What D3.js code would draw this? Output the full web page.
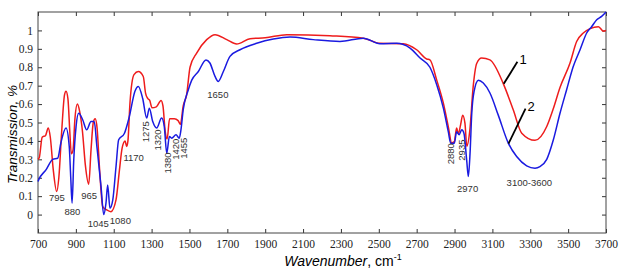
<!DOCTYPE html>
<html>
<head>
<meta charset="utf-8">
<script src="https://cdn.jsdelivr.net/npm/d3@7"></script>
<style>
    body { margin: 0; background: #fff; }
    .peak { font-family: "Liberation Sans", Arial, sans-serif; font-size: 9.5px; fill: #333; }
</style>
</head>
<body>
<svg id="drawing_region"></svg>
<script>
// wavenumber / transmission
const wave1 = [700, 707, 722, 740, 754, 765, 780, 799, 810, 825, 840, 848, 858, 868, 876, 885, 895, 908, 920, 935, 950, 968, 980, 992, 1002, 1012, 1025, 1042, 1063, 1085, 1112, 1130, 1144, 1160, 1168, 1175, 1186, 1207, 1230, 1256, 1268, 1280, 1290, 1302, 1325, 1350, 1360, 1372, 1382, 1395, 1420, 1440, 1452, 1467, 1485, 1503, 1538, 1591, 1635, 1697, 1749, 1820, 1900, 2014, 2242, 2418, 2506, 2629, 2700, 2753, 2770, 2806, 2841, 2867, 2885, 2899, 2911, 2920, 2932, 2943, 2955, 2965, 2980, 2999, 3017, 3043, 3087, 3158, 3210, 3255, 3325, 3387, 3420, 3457, 3510, 3545, 3580, 3616, 3660, 3687, 3700];
const trans1 = [0.30, 0.31, 0.42, 0.43, 0.47, 0.42, 0.25, 0.125, 0.20, 0.45, 0.65, 0.67, 0.63, 0.45, 0.33, 0.35, 0.52, 0.60, 0.56, 0.45, 0.27, 0.165, 0.35, 0.50, 0.52, 0.47, 0.25, 0.043, 0.025, 0.016, 0.08, 0.24, 0.36, 0.40, 0.37, 0.40, 0.61, 0.76, 0.777, 0.75, 0.66, 0.63, 0.62, 0.58, 0.585, 0.62, 0.59, 0.45, 0.41, 0.52, 0.52, 0.51, 0.49, 0.59, 0.65, 0.80, 0.877, 0.95, 0.977, 0.95, 0.926, 0.955, 0.96, 0.977, 0.971, 0.958, 0.93, 0.928, 0.895, 0.845, 0.84, 0.73, 0.605, 0.478, 0.39, 0.397, 0.47, 0.44, 0.487, 0.54, 0.497, 0.37, 0.45, 0.70, 0.82, 0.85, 0.84, 0.71, 0.569, 0.442, 0.403, 0.478, 0.57, 0.69, 0.823, 0.94, 0.986, 1.01, 1.02, 0.995, 1.0];

const wave2 = [700, 704, 742, 778, 804, 821, 848, 865, 873, 880, 889, 901, 915, 936, 957, 980, 997, 1011, 1033, 1047, 1059, 1068, 1080, 1095, 1112, 1126, 1156, 1182, 1212, 1230, 1253, 1274, 1288, 1306, 1327, 1353, 1367, 1380, 1394, 1406, 1429, 1446, 1455, 1467, 1494, 1512, 1547, 1587, 1608, 1635, 1652, 1679, 1714, 1767, 1855, 1943, 2031, 2154, 2295, 2418, 2506, 2594, 2665, 2718, 2770, 2806, 2841, 2867, 2880, 2899, 2911, 2924, 2938, 2950, 2964, 2973, 2982, 2991, 3003, 3026, 3052, 3087, 3131, 3184, 3228, 3281, 3325, 3351, 3387, 3422, 3457, 3492, 3527, 3563, 3598, 3624, 3651, 3677, 3700];
const trans2 = [0.18, 0.19, 0.243, 0.30, 0.306, 0.39, 0.47, 0.37, 0.20, 0.062, 0.30, 0.478, 0.55, 0.515, 0.46, 0.505, 0.505, 0.37, 0.152, 0.0, 0.062, 0.16, 0.035, 0.08, 0.26, 0.406, 0.44, 0.53, 0.67, 0.696, 0.63, 0.524, 0.578, 0.505, 0.47, 0.524, 0.478, 0.333, 0.424, 0.415, 0.433, 0.415, 0.46, 0.57, 0.678, 0.73, 0.777, 0.84, 0.823, 0.75, 0.723, 0.777, 0.859, 0.895, 0.93, 0.953, 0.964, 0.95, 0.94, 0.958, 0.928, 0.93, 0.904, 0.85, 0.80, 0.705, 0.578, 0.45, 0.388, 0.388, 0.45, 0.433, 0.46, 0.44, 0.297, 0.207, 0.334, 0.55, 0.668, 0.73, 0.714, 0.66, 0.54, 0.388, 0.315, 0.265, 0.252, 0.26, 0.30, 0.406, 0.55, 0.678, 0.804, 0.895, 0.986, 1.02, 1.058, 1.076, 1.10];

const xticks = [700, 900, 1100, 1300, 1500, 1700, 1900, 2100, 2300, 2500, 2700, 2900, 3100, 3300, 3500, 3700];
const yticks = [0, 0.1, 0.2, 0.3, 0.4, 0.5, 0.6, 0.7, 0.8, 0.9, 1];

// peak labels: [text, wavenumber, transmission, rotated]
const peaks = [
    ['795', 800, 0.095, false],
    ['880', 882, 0.015, false],
    ['965', 970, 0.105, false],
    ['1045', 1018, -0.048, false],
    ['1080', 1135, -0.03, false],
    ['1170', 1205, 0.31, false],
    ['1275', 1270, 0.45, true],
    ['1320', 1332, 0.405, true],
    ['1380', 1385, 0.28, true],
    ['1420', 1428, 0.355, true],
    ['1455', 1470, 0.36, true],
    ['1650', 1650, 0.65, false],
    ['2880', 2880, 0.33, true],
    ['2935', 2935, 0.35, true],
    ['2970', 2969, 0.14, false],
    ['3100-3600', 3295, 0.175, false]
];

// curve number labels with their leader lines: [text, x1, y1, x2, y2]
const leaders = [
    ['1', 3160, 0.71, 3232, 0.83],
    ['2', 3185, 0.385, 3275, 0.575]
];

class SpectrumChart {
    constructor(config) {
        this.config = config;
        this.init();
    }

    init() {
        let self = this;
        const c = self.config;

        self.svg = d3.select(c.parent)
            .attr('width', c.width)
            .attr('height', c.height);

        self.inner_width = c.width - c.margin.left - c.margin.right;
        self.inner_height = c.height - c.margin.top - c.margin.bottom;

        self.chart = self.svg.append('g')
            .attr('transform', `translate(${c.margin.left}, ${c.margin.top})`);

        self.xscale = d3.scaleLinear()
            .domain([700, 3700])
            .range([0, self.inner_width]);

        self.yscale = d3.scaleLinear()
            .domain([-0.1, 1.1])
            .range([self.inner_height, 0]);

        self.render();
    }

    render() {
        let self = this;
        const c = self.config;
        const fmt = d => String(+d.toFixed(1));
        const serif = '"Liberation Serif", "Times New Roman", serif';

        // axes with inward ticks on all four sides
        self.chart.append('g')
            .attr('transform', `translate(0, ${self.inner_height})`)
            .call(d3.axisBottom(self.xscale).tickValues(xticks).tickSize(-4).tickSizeOuter(0).tickPadding(7).tickFormat(d3.format('d')));
        self.chart.append('g')
            .call(d3.axisTop(self.xscale).tickValues(xticks).tickSize(-4).tickSizeOuter(0).tickFormat(''));
        self.chart.append('g')
            .call(d3.axisLeft(self.yscale).tickValues(yticks).tickSize(-4).tickSizeOuter(0).tickPadding(5).tickFormat(fmt));
        self.chart.append('g')
            .attr('transform', `translate(${self.inner_width}, 0)`)
            .call(d3.axisRight(self.yscale).tickValues(yticks).tickSize(-4).tickSizeOuter(0).tickFormat(''));

        self.chart.selectAll('.domain').remove();
        self.chart.selectAll('.tick line').attr('stroke', '#333');
        self.chart.selectAll('.tick text')
            .attr('font-family', serif)
            .attr('font-size', 11.5)
            .attr('fill', '#222');

        self.chart.append('rect')
            .attr('width', self.inner_width)
            .attr('height', self.inner_height)
            .attr('fill', 'none')
            .attr('stroke', '#444')
            .attr('stroke-width', 1);

        const line = d3.line()
            .x(d => self.xscale(d[0]))
            .y(d => self.yscale(d[1]))
            .curve(d3.curveMonotoneX);

        const series = [
            {w: wave1, t: trans1, color: '#ee1c1c'},
            {w: wave2, t: trans2, color: '#1a1ae0'}
        ];

        self.chart.selectAll('path.spectrum')
            .data(series)
            .join('path')
            .attr('class', 'spectrum')
            .attr('fill', 'none')
            .attr('stroke', d => d.color)
            .attr('stroke-width', 1.5)
            .attr('d', d => line(d.w.map((w, i) => [w, d.t[i]])));

        // peak labels
        self.chart.selectAll('text.peak')
            .data(peaks)
            .join('text')
            .attr('class', 'peak')
            .attr('text-anchor', 'middle')
            .attr('dominant-baseline', 'central')
            .attr('transform', d => `translate(${self.xscale(d[1])}, ${self.yscale(d[2])})` + (d[3] ? ' rotate(-90)' : ''))
            .text(d => d[0]);

        // leader lines and curve numbers
        self.chart.selectAll('line.leader')
            .data(leaders)
            .join('line')
            .attr('class', 'leader')
            .attr('x1', d => self.xscale(d[1]))
            .attr('y1', d => self.yscale(d[2]))
            .attr('x2', d => self.xscale(d[3]))
            .attr('y2', d => self.yscale(d[4]))
            .attr('stroke', '#000')
            .attr('stroke-width', 1.8);

        self.chart.selectAll('text.num')
            .data(leaders)
            .join('text')
            .attr('class', 'num')
            .attr('x', d => self.xscale(d[3]) + 2)
            .attr('y', d => self.yscale(d[4]) + 2)
            .attr('font-family', '"Liberation Sans", Arial, sans-serif')
            .attr('font-size', 13)
            .text(d => d[0]);

        // axis titles
        self.svg.append('text')
            .attr('text-anchor', 'middle')
            .attr('transform', `translate(17, ${c.margin.top + self.inner_height / 2 + 12}) rotate(-90)`)
            .attr('font-family', '"Liberation Sans", Arial, sans-serif')
            .attr('font-size', 13.5)
            .attr('font-style', 'italic')
            .text(c.label.yaxis);

        const xl = self.svg.append('text')
            .attr('text-anchor', 'middle')
            .attr('x', 343)
            .attr('y', c.height - 13)
            .attr('font-family', '"Liberation Sans", Arial, sans-serif')
            .attr('font-size', 14);
        xl.append('tspan').attr('font-style', 'italic').text(c.label.xaxis);
        xl.append('tspan').text(', cm');
        xl.append('tspan').attr('font-size', 9).attr('dy', -6).text('-1');
    }
}

const config = {
    parent: '#drawing_region',
    width: 623,
    height: 279,
    margin: {top: 12, right: 17, bottom: 46, left: 38},
    label: {xaxis: 'Wavenumber', yaxis: 'Transmission, %'}
};

new SpectrumChart(config);
</script>
</body>
</html>
